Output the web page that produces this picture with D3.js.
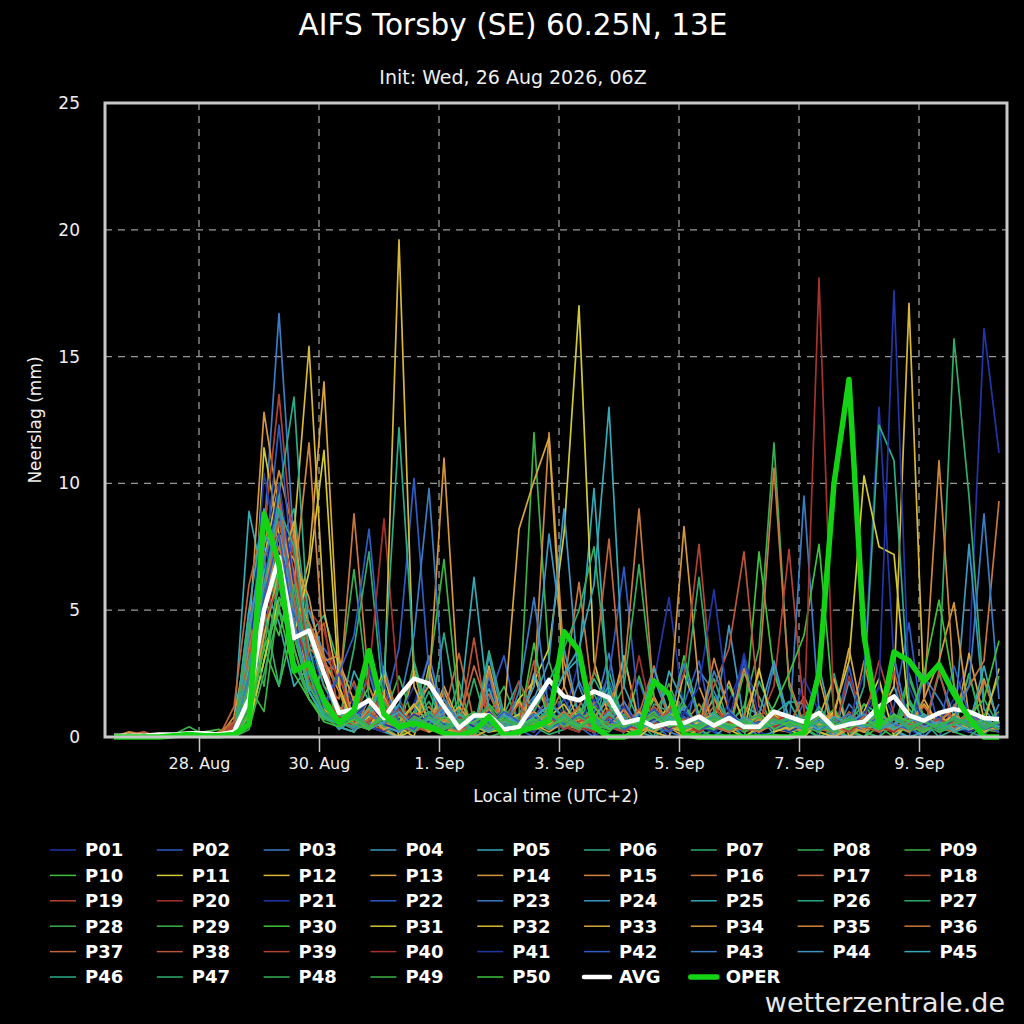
<!DOCTYPE html>
<html>
<head>
<meta charset="utf-8">
<script src="https://cdn.jsdelivr.net/npm/d3@7"></script>
<style>
  body { margin: 0; background: #000; }
  text { font-family: "DejaVu Sans", sans-serif; }
</style>
</head>
<body>
<div id="chart"></div>
<script>
// ---- data (local time, UTC+2), 6-hourly precipitation in mm ----
var titleText = "AIFS Torsby (SE) 60.25N, 13E";
var subtitleText = "Init: Wed, 26 Aug 2026, 06Z";
var firstStep = Date.UTC(2026, 7, 26, 14);   // 26 Aug 14:00 local
var stepHours = 6;
var xDomain = [Date.UTC(2026, 7, 26, 10, 24), Date.UTC(2026, 8, 10, 11, 12)];
var xTickDates = [Date.UTC(2026,7,28), Date.UTC(2026,7,30), Date.UTC(2026,8,1), Date.UTC(2026,8,3),
                  Date.UTC(2026,8,5), Date.UTC(2026,8,7), Date.UTC(2026,8,9)];
var yTicks = [0, 5, 10, 15, 20, 25];

var memberColors = ["#2236a8","#2c5cc4","#3a7dc4","#3d97c2","#33aab6","#2aab8a","#2ead68","#36ae56","#3ab244","#3ec23e",
                    "#d2ca34","#d8b836","#d8a63a","#d6963c","#d0863c","#c9763c","#c2653a","#bb5438","#b44234","#a6322e"];

var memberNames = ["P01","P02","P03","P04","P05","P06","P07","P08","P09","P10",
                   "P11","P12","P13","P14","P15","P16","P17","P18","P19","P20",
                   "P21","P22","P23","P24","P25","P26","P27","P28","P29","P30",
                   "P31","P32","P33","P34","P35","P36","P37","P38","P39","P40",
                   "P41","P42","P43","P44","P45","P46","P47","P48","P49","P50"];

var memberValues = [
  [0,0,0,0,0,0,0,0,0.1, 1.5,5.5,8.0,4.0,3.5,2.0, 1.2,0.2,2.8,0.4,0,1.3,3.2,0.5,0,0,2.1,0,0,1.0,2.0, 0.8,3.0,0,0.5,1.4,0.3,2.2,5.5,1.0,0.2,0,1.4,2.9,0.2,0, 0,2.3,1.0,0.2,0,0.5,2.0,0.8,0.3,0,0.6,1.5,3.0,16.1,11.2], // P01
  [0,0,0,0,0,0,0,0,0, 0.8,4.5,9.0,6.0,3.0,3.5, 2.6,2.0,0.5,1.0,3.5,10.2,2.5,0.8,0.2,0,1.5,3.2,0.3,0,0.6, 1.5,0.4,0,2.2,0.8,2.2,0.5,0,1.3,3.0,0.2,0,3.1,0.1,0, 0,1.4,0,0,2.8,0.2,0,1.2,4.5,0,0,1.3,1.0,0.4,0.2], // P02
  [0,0,0,0,0,0,0,0,0.2, 2.0,8.0,16.7,7.5,5.0,3.2, 2.4,0.8,2.5,0.5,0.2,1.0,3.2,0.9,0,0,2.4,0.2,0.9,1.6,0.3, 0.5,2.2,0.9,3.3,0,0.4,1.0,0.2,0,2.6,1.8,0.5,0,0.3,2.8, 0.2,9.5,1.0,0,1.3,0.6,1.2,0.2,0,2.4,1.5,0.5,0.2,0,1.3], // P03
  [0,0,0,0,0,0,0,0,0, 3.5,7.0,5.0,3.8,4.5,2.6, 1.2,0.3,0.5,2.8,0.6,0.2,0.9,1.5,0.4,0,3.2,0.6,0.3,2.5,1.0, 0.6,0.3,1.2,2.0,0.5,0,2.3,0.8,1.1,0.2,0.5,4.4,0.6,0,0.2, 1.4,1.3,0.5,0,2.2,0.5,0.9,2.0,0.4,0,0.6,0.3,7.6,1.1,0.4], // P04
  [0,0.1,0,0,0,0,0,0,0.5, 8.9,6.0,4.5,2.0,2.8,1.0, 0.3,2.6,1.4,0.2,0,0.8,2.1,0.4,0.2,0.7,1.9,0.3,0,2.5,1.2, 2.5,3.1,9.8,1.5,0.4,0.2,0,2.6,1.3,0.3,0,0.5,1.2,0.9,0.1, 0,0.3,2.8,0.2,0,0.4,1.1,0.3,0,0.2,2.5,0.8,0.3,0.6,0.4], // P05
  [0,0,0,0,0,0,0,0,0, 1.2,5.0,7.5,9.0,4.0,4.8, 2.8,0.3,1.0,2.4,0.5,0.3,0.4,4.1,0.6,0,0.3,0.9,2.2,1.0,0.4, 0.7,1.5,0.4,2.6,0.5,0,1.3,1.0,0.2,0.4,1.6,0.6,0,2.2,0.9, 1.4,0.3,0,2.5,0.2,0,0.8,0.4,1.3,0.6,0,0.3,2.5,0.2,0.8], // P06
  [0,0,0,0,0,0,0,0,0, 0.5,3.0,6.0,5.5,2.0,1.5, 0.6,3.5,7.3,1.2,0.3,0.5,1.8,0.4,0,2.3,0.2,0.8,1.5,0.4,0.1, 0.3,0.9,1.7,0.5,3.2,0.6,0,0.4,0.2,0.9,2.3,0.5,1.2,0.4,0.6, 0.2,0.3,1.2,0.4,0,1.3,0.9,0.5,1.1,0.4,2.5,15.7,9.5,1.5,0.4], // P07
  [0,0,0,0,0,0.1,0,0,0, 0.3,2.5,5.0,8.0,3.5,3.0, 2.0,6.6,1.5,0.4,0,0.6,1.4,0.3,2.2,0,0.9,2.0,0.5,0.3,0.8, 0.4,0.2,2.6,1.3,0.5,0.2,0.8,2.1,0.6,0,0.3,0.5,1.2,3.5,11.6, 2.0,0.4,0,0.3,0.8,0.2,0,0.5,1.4,0.3,0.6,0.2,0,0.5,1.0], // P08
  [0,0,0,0,0.1,0.4,0.1,0,0, 0.4,3.0,5.5,4.0,2.2,0.8, 0.5,1.1,0.3,0.8,2.4,0.6,0.2,0.4,1.5,0.3,0,0.2,0.8,12.0,3.0, 1.0,0.4,0.2,0.9,0.3,2.4,0.5,1.2,0.3,0.1,0.7,0.2,2.5,1.6,0.3, 0.4,0.9,0.2,0,0.6,1.3,0.4,0,2.3,0.8,0.2,0.5,1.0,0.3,0.2], // P09
  [0,0,0,0,0,0,0.2,0.3,0, 5.0,3.5,2.0,4.5,1.8,2.6, 0.3,0.9,2.0,0.5,0.2,0.6,1.0,0.3,0,0.4,1.3,0.6,0.2,0.5,0.9, 0.6,1.2,0.4,0.2,0.8,0.3,1.5,0.5,0.2,0.4,1.0,2.0,0.6,7.3,2.5, 0.8,0.2,0.5,1.1,0.3,0,0.4,0.9,0.3,0.6,0.2,0.4,0.8,0.3,0.5], // P10
  [0,0,0,0,0,0,0,0,0, 1.0,11.4,8.0,3.5,1.5,0.8, 0.4,0.2,1.2,2.6,0,0.3,0.8,0.2,0,0.5,0.2,0.3,1.5,2.2,3.5, 8.0,17.0,3.0,0.8,0.3,0,0.5,1.2,0.4,0.2,0.6,0.3,0,0.4,0.9, 0.3,0,0.6,0.2,0.4,1.0,2.3,0,0.5,0.2,0.8,0.3,0.5,0.2,0.4], // P11
  [0,0,0,0,0,0,0,0,0, 0.6,4.0,6.5,8.0,15.4,5.0, 2.0,0.5,0.3,1.6,0.4,0,2.8,0.3,0.2,0.6,1.1,0.2,0,2.4,0.8, 1.3,0.4,0.2,0.6,0.3,1.0,0.2,0,2.5,0.9,0.3,0.6,0.2,0.4,0.8, 0.3,0.5,0.2,0,0.4,0.6,0.8,2.0,17.1,1.5,0.4,0.2,0.6,0.3,0.5], // P12
  [0,0,0,0,0,0,0,0,0.3, 1.5,5.0,6.5,4.5,7.0,14.0, 3.0,1.4,0.8,0.3,0,1.0,0.5,2.0,0.6,0.2,2.8,0.3,1.4,0.5,0.2, 0.6,1.1,0.3,0.8,3.2,0.5,1.6,0.4,0,0.3,0.7,2.2,0.5,1.0,0.3, 0.6,0.2,0.8,2.3,0,0.5,0.9,0.2,0.4,1.3,0.5,0.2,3.3,0.7,0.4], // P13
  [0,0.2,0.1,0,0,0,0,0,0.8, 4.0,12.8,9.0,6.0,4.5,3.0, 1.8,0.3,1.5,0.5,0.2,2.6,0.3,1.8,0.4,0,0.3,0.9,0.4,0.2,1.0, 0.5,0.3,0.8,1.5,0.4,0.2,0.6,1.0,8.3,2.0,0.5,0.2,0.4,0.8,0.3, 0.2,0.6,2.4,0,0.3,0.8,0.2,0.5,0.3,0.9,0.4,0.2,0.6,2.3,0.5], // P14
  [0,0,0,0,0,0,0,0,0.2, 2.5,7.5,10.5,8.0,3.0,1.3, 0.5,1.6,0.4,0.2,0.9,0.3,2.6,0.2,0,0.5,1.0,0.3,0.6,2.0,12.0, 3.0,0.8,0.3,0.5,1.2,0.2,0.4,0.8,0.3,0.6,1.5,0.4,2.7,0.5,1.0, 0.4,0.2,0.6,1.0,0.3,3.0,0.2,0.8,0.4,0.3,0.6,1.1,0.2,0.5,0.3], // P15
  [0,0,0,0,0,0,0,0.2,0.6, 3.0,5.5,8.5,6.0,4.0,2.0, 1.5,8.8,2.0,0.5,0.3,0.8,0.4,1.2,0.3,0,2.6,0.2,0.5,1.4,0.8, 2.0,6.1,1.2,0.4,0.2,0.6,1.0,0.3,0.5,1.3,0.4,0.2,0.8,2.5,10.6, 2.2,0.5,0.3,0.8,0.2,0.4,1.0,0.3,0.6,0.2,0.5,0.9,0.3,2.2,0.6], // P16
  [0,0,0,0,0,0,0,0,1.2, 6.0,8.5,7.0,4.5,4.0,2.8, 2.6,0.3,1.0,2.5,0.8,0.2,0.5,0.9,3.3,0.6,1.7,0.4,0.2,0.8,1.5, 0.7,0.3,1.4,0.5,0.2,0.9,2.8,0.6,0.3,0.5,1.2,0.4,0.6,0.3,1.0, 0.5,1.6,0.3,0.2,0.7,0.4,0.9,0.3,0.5,1.2,0.4,0.2,0.6,0.8,0.3], // P17
  [0,0,0,0,0,0,0,0,0.4, 2.0,6.0,9.5,5.0,3.5,4.5, 0.8,2.2,0.5,0.3,1.1,0.4,0.2,0.6,0.3,3.9,0.2,0.5,1.3,0.4,0.6, 1.0,0.4,0.2,0.8,0.5,0.3,1.2,0.6,0.2,0.4,2.0,3.5,7.3,1.2,0.5, 0.3,0.8,0.4,0.2,1.0,0.5,0.3,2.6,0.2,0.9,0.4,0.3,0.7,0.2,0.5], // P18
  [0,0,0,0,0,0,0,0,0.5, 3.5,8.0,13.5,7.0,3.0,1.2, 2.6,0.3,0.9,1.8,0.4,0.2,0.7,0.3,0,0.5,0.9,0.3,2.2,0.6,0.4, 0.8,0.3,0.5,1.1,0.2,0.6,0.3,0.9,0.4,0.2,0.5,1.0,0.3,0.6,2.0, 7.4,1.0,0.3,0.5,0.2,0.8,0.4,0.3,0.6,0.2,0.5,0.9,0.3,0.4,0.2], // P19
  [0,0,0,0,0,0,0,0,0, 1.0,4.0,7.5,6.5,5.0,4.2, 2.0,0.5,2.5,8.6,1.5,0.4,0.8,0.3,0.5,0.2,0.9,0.4,0.3,0.6,1.0, 0.4,0.2,0.8,0.5,0.3,3.2,0.4,0.2,0.6,0.3,0.8,0.5,0.2,0.4,0.6, 0.9,0.3,0.5,0.2,2.4,0.7,0.3,0.5,0.2,0.6,0.3,0.8,0.4,0.2,0.5], // P20
  [0,0,0,0,0,0,0,0,0, 2.5,10.4,7.0,5.0,2.0,1.0, 2.5,1.2,0.4,0.2,0.8,2.0,0.6,0.3,0.9,0.2,0.5,1.1,0.4,0.2,0.7, 0.3,0.6,1.5,0.4,0.2,0.8,0.3,0.5,1.0,0.4,0.2,0.6,3.3,0.8,0.4, 0.2,0.5,1.0,0.3,0.6,2.5,13.0,3.0,0.6,0.3,0.8,0.4,0.2,0.5,0.9], // P21
  [0,0,0,0,0,0,0,0,0, 1.8,6.5,12.3,6.0,2.5,1.4, 0.7,0.4,1.6,0.5,0.3,0.9,2.4,0.6,0.2,0.5,0.3,1.0,0.4,0.8,1.5, 0.6,0.3,1.2,2.4,6.7,1.0,0.4,0.2,0.6,0.9,0.3,0.5,0.2,0.7,0.4, 0.3,0.6,0.2,0.8,0.4,0.3,0.9,0.5,0.2,2.6,0.4,0.3,1.0,0.5,0.2], // P22
  [0,0,0,0,0,0,0,0,0, 4.5,7.5,6.0,3.0,1.8,0.9, 0.4,0.9,0.3,1.4,0.5,0.2,0.8,0.4,1.2,0.3,0.6,0.2,1.8,5.5,1.0, 0.5,0.9,0.3,0.6,1.4,0.4,0.2,0.8,0.5,0.3,2.6,1.1,0.4,0.2,0.7, 0.5,0.3,0.8,0.2,0.5,1.0,0.4,3.2,0.3,0.8,0.2,0.5,0.7,0.3,0.4], // P23
  [0,0,0,0,0,0,0,0,0, 2.2,5.5,9.0,4.5,5.0,3.2, 0.3,0.7,1.5,0.4,0.2,0.6,0.3,1.0,0.5,0.2,0.7,0.3,0.9,2.0,8.0, 3.5,0.8,0.4,1.0,0.3,0.6,0.2,0.5,1.2,0.4,0.7,0.3,0.5,0.9,3.0, 0.6,0.3,0.5,0.2,0.7,0.4,1.1,0.3,0.6,0.2,0.5,0.8,0.3,0.6,0.4], // P24
  [0,0,0,0,0,0,0,0,0, 3.0,6.5,8.0,5.5,2.6,1.0, 0.4,0.2,0.9,0.5,1.3,0.3,0.6,0.2,0.8,6.3,1.0,0.4,0.2,0.7,1.3, 0.8,0.4,0.6,1.8,0.3,0.5,2.7,0.9,0.4,0.6,0.3,1.0,0.5,0.2,0.6, 0.4,0.8,0.3,0.5,0.2,0.6,0.4,0.9,0.3,0.5,0.7,0.2,0.4,2.8,0.3], // P25
  [0,0,0,0,0,0,0,0,0, 1.5,6.0,9.5,13.4,4.0,2.0, 0.9,0.4,1.2,0.5,0.3,0.8,0.4,1.5,0.6,0.2,3.4,0.9,0.3,0.6,1.1, 0.5,0.8,2.3,1.2,0.4,0.6,0.2,0.7,0.3,0.5,1.0,0.4,0.6,0.3,0.8, 0.3,0.6,0.4,0.8,0.3,2.0,12.3,10.9,1.5,0.4,0.6,0.3,0.5,0.2,0.4], // P26
  [0,0,0,0,0,0,0,0,0, 0.8,4.5,6.0,4.0,1.8,0.7, 0.5,0.9,0.3,1.1,0.6,0.2,0.8,0.4,0.3,0.7,1.2,0.4,0.6,1.0,2.2, 3.5,5.0,7.5,2.0,0.6,0.3,0.8,0.4,0.2,0.6,0.9,0.3,0.5,0.2,0.7, 0.5,0.3,0.8,0.4,0.2,0.6,0.9,0.3,2.5,0.7,0.2,0.4,0.8,0.3,0.5], // P27
  [0,0,0,0,0,0,0,0,0, 0.6,3.5,7.0,5.0,3.0,1.5, 0.8,0.3,0.6,1.4,0.4,2.9,0.3,0.6,0.2,0.5,0.8,0.3,0.7,0.4,0.9, 0.6,1.0,0.4,0.8,2.0,6.8,1.5,0.5,0.3,0.7,0.4,0.2,0.6,0.9,0.3, 0.6,0.4,0.2,0.7,0.3,0.5,0.8,0.4,0.2,0.6,0.9,0.3,2.5,0.2,0.6], // P28
  [0,0,0,0,0,0.2,0.1,0,0, 1.2,5.0,8.0,3.5,1.5,0.8, 0.4,0.8,1.6,0.6,0.3,0.9,2.5,7.0,1.0,0.4,0.2,0.6,0.9,0.3,0.5, 1.0,0.4,0.7,0.3,0.9,0.5,0.2,0.6,1.3,0.4,0.3,0.7,0.2,0.5,0.8, 0.3,0.7,0.4,0.2,0.6,0.9,0.4,0.3,0.7,0.5,0.2,0.6,0.3,0.8,2.4], // P29
  [0,0,0,0,0,0,0,0,0, 2.0,5.5,4.0,6.5,2.5,0.9, 0.6,0.3,1.0,0.4,0.8,0.3,0.6,0.2,0.9,0.5,0.3,1.1,0.4,3.7,0.3, 0.8,0.4,1.2,0.5,0.3,0.6,1.0,0.4,3.2,0.8,0.5,0.3,0.7,0.4,1.2, 2.5,4.0,7.6,1.0,0.4,0.6,0.3,0.8,0.4,0.2,0.6,0.3,0.5,0.7,0.4], // P30
  [0,0,0,0,0,0,0,0,0, 0.5,3.0,5.5,4.0,6.5,11.3, 2.0,0.4,0.8,0.3,0.6,1.3,0.5,0.2,0.7,0.4,0.9,0.3,0.5,0.8,0.3, 0.6,0.3,0.9,0.4,0.7,0.2,0.5,1.0,0.3,0.6,0.4,0.8,0.3,2.7,0.2, 0.4,0.7,0.3,1.0,3.0,10.3,7.5,7.2,0.8,0.4,0.6,0.3,0.5,0.2,0.6], // P31
  [0,0,0,0,0,0,0,0,0, 1.5,7.0,10.0,5.5,2.0,1.1, 0.6,0.9,0.3,1.5,19.6,2.0,0.6,0.3,0.8,0.4,0.2,0.6,0.9,0.3,0.5, 0.8,0.3,0.6,0.4,1.1,0.3,0.7,0.4,0.2,0.6,0.9,0.3,0.5,0.8,0.4, 0.6,0.3,0.5,0.8,0.4,0.2,0.7,0.5,0.3,0.6,0.4,0.9,0.3,0.5,2.7], // P32
  [0,0,0,0,0,0,0,0,0, 0.9,4.0,6.5,8.5,3.0,1.4, 0.5,1.0,0.3,0.7,0.4,0.9,0.2,0.6,1.2,0.4,0.3,0.8,8.2,10.1,11.8, 2.0,0.6,0.3,0.8,0.4,1.0,0.3,0.6,0.2,0.5,0.9,0.4,0.3,0.7,0.5, 0.3,0.6,0.4,0.8,3.5,0.5,0.3,0.7,0.4,0.6,0.9,0.3,0.5,0.2,0.6], // P33
  [0,0,0,0,0,0,0,0,0, 2.8,6.0,8.0,7.0,5.5,2.5, 1.2,0.5,0.9,0.3,0.6,1.2,2.0,11.0,1.5,0.4,0.7,0.3,0.6,1.0,0.4, 0.5,0.8,0.3,0.6,1.1,0.4,0.2,0.7,0.5,0.3,0.8,0.4,0.6,0.2,0.5, 0.7,0.3,0.5,0.9,0.4,0.2,0.6,0.8,0.3,1.5,3.0,5.3,0.8,0.4,0.3], // P34
  [0,0,0,0,0,0,0,0,0.3, 2.0,5.0,8.0,6.0,11.6,3.0, 3.2,0.4,1.1,0.6,0.3,0.9,0.4,0.7,0.3,0.5,1.0,0.4,0.2,0.6,0.9, 0.4,0.7,0.3,0.9,0.5,0.2,0.6,0.4,0.8,0.3,3.1,1.0,0.4,0.7,0.3, 0.5,0.3,0.8,0.4,0.6,0.3,0.9,0.5,0.2,1.5,10.9,2.0,0.5,0.3,0.6], // P35
  [0,0,0,0,0,0,0,0,0, 3.5,6.0,7.5,5.0,4.5,3.2, 0.6,1.0,0.4,0.8,0.3,0.7,1.2,0.4,0.2,0.6,0.9,0.3,0.5,0.8,0.4, 1.0,0.5,0.3,1.4,2.5,9.0,1.5,0.4,0.7,0.3,0.6,0.9,0.4,0.2,0.5, 0.8,0.3,0.6,0.4,0.2,0.7,0.5,0.3,0.8,0.4,0.6,1.2,2.0,3.0,9.3], // P36
  [0,0.1,0.2,0,0,0,0,0,0.2, 2.5,5.0,9.0,6.5,3.5,3.0, 0.9,0.4,0.7,1.5,0.5,0.3,0.8,0.4,0.6,2.8,1.0,0.5,0.2,0.7,0.4, 0.6,1.2,2.5,7.8,1.0,0.4,0.7,0.3,0.6,0.9,0.4,0.2,0.8,0.5,0.3, 0.6,0.4,0.9,0.3,0.5,0.8,0.4,0.2,0.6,0.3,0.7,0.5,0.9,0.4,0.6], // P37
  [0,0,0,0,0,0,0,0,0.6, 3.0,7.0,8.5,5.5,2.2,1.0, 0.7,0.3,1.0,0.5,0.9,0.4,0.6,1.3,0.3,0.5,0.8,0.2,0.6,3.0,0.9, 0.5,0.8,0.3,0.6,0.4,1.1,0.5,0.3,0.7,0.4,0.9,0.6,0.3,0.5,0.8, 0.4,0.7,0.3,0.6,0.9,0.4,0.2,0.7,0.5,0.3,2.6,0.4,0.6,0.3,0.5], // P38
  [0,0,0,0,0,0,0,0,0, 1.5,4.5,6.0,7.5,3.0,1.6, 0.8,0.4,0.6,1.2,0.3,0.8,0.5,0.3,0.7,0.4,0.9,0.3,0.6,0.4,0.8, 0.3,0.6,0.9,0.4,0.2,0.7,0.5,1.0,2.5,7.6,1.2,0.5,0.3,0.8,0.4, 0.6,0.3,0.8,0.5,0.2,0.6,3.0,0.9,0.3,0.5,0.7,0.4,0.6,0.3,0.5], // P39
  [0,0,0,0,0,0,0,0,0, 2.0,5.5,7.0,4.5,2.8,1.0, 0.5,0.9,0.3,0.7,1.1,0.4,0.6,0.2,0.8,0.5,0.3,0.7,0.4,0.9,0.3, 0.7,0.4,0.2,0.8,0.5,0.3,0.9,0.4,0.6,0.2,0.7,0.5,0.3,0.8,0.4, 0.6,0.5,18.1,0.8,0.3,0.6,0.4,0.2,0.7,0.5,0.3,0.8,0.4,0.6,0.3], // P40
  [0,0,0,0,0,0,0,0,0, 1.0,6.0,10.0,6.0,2.5,1.0, 0.4,0.8,1.4,0.5,0.3,0.9,0.6,0.2,0.7,0.4,1.0,0.3,0.5,0.8,0.4, 0.6,0.3,0.8,0.5,1.2,0.4,0.7,0.3,0.9,2.0,5.8,1.0,0.4,0.6,0.3, 0.5,0.8,0.3,0.6,0.4,0.9,2.0,17.6,2.0,0.5,0.3,0.7,0.4,0.6,0.3], // P41
  [0,0,0,0,0,0,0,0,0, 1.5,5.5,8.0,4.5,2.0,1.3, 2.5,4.0,8.2,2.0,0.6,0.3,0.9,0.5,0.3,0.7,0.4,1.0,0.6,0.3,0.8, 0.5,0.9,0.4,0.7,0.3,0.6,1.1,0.4,0.8,0.3,0.5,0.9,0.4,0.6,0.3, 0.7,0.4,0.9,0.3,0.6,0.4,0.8,0.5,0.3,0.7,0.4,2.8,0.9,0.3,0.5], // P42
  [0,0,0,0,0,0,0,0,0, 2.5,7.0,9.0,5.0,3.0,1.5, 0.7,0.3,0.9,0.5,1.2,4.0,9.8,1.5,0.6,0.3,0.8,0.4,0.6,0.9,0.3, 0.6,0.4,0.8,0.3,0.5,0.9,0.4,0.7,2.9,0.6,0.8,0.4,0.5,0.3,0.7, 0.4,0.7,0.3,0.6,0.9,0.4,0.5,0.8,0.3,0.6,0.4,0.7,2.0,8.8,1.5], // P43
  [0,0,0,0,0,0,0,0,0, 4.0,8.0,7.0,4.5,2.0,1.0, 0.6,1.0,0.4,0.8,0.3,0.7,0.5,1.2,0.4,0.6,0.3,0.9,0.5,1.5,3.0, 9.0,2.0,0.6,0.4,0.8,0.3,0.6,0.9,0.4,0.5,0.7,0.3,0.8,0.4,0.6, 0.5,0.3,0.7,0.4,0.6,0.9,0.3,0.5,0.8,0.4,0.6,0.3,0.7,0.5,0.4], // P44
  [0,0,0,0,0,0,0,0,0, 5.0,9.0,7.0,4.0,1.8,0.8, 0.5,0.8,0.3,0.6,1.0,0.4,0.7,0.3,0.9,0.5,0.2,0.6,0.4,0.8,1.2, 2.5,3.5,6.0,13.0,2.0,0.6,0.3,0.8,0.5,0.4,0.9,0.3,0.6,0.4,0.7, 0.4,0.6,0.3,0.8,0.5,0.4,0.7,0.3,0.6,0.9,0.4,0.5,0.3,0.7,0.4], // P45
  [0,0,0,0,0,0,0,0,0, 2.0,6.0,9.0,7.5,3.5,1.2, 0.6,0.4,0.9,2.5,12.2,3.0,0.8,0.4,0.6,0.3,0.9,0.5,0.3,0.7,0.4, 0.8,0.5,0.3,0.9,0.4,0.6,0.3,0.7,0.5,0.4,0.8,0.3,0.6,0.4,0.5, 0.7,0.3,0.6,0.4,0.8,0.5,0.3,0.7,0.4,0.6,0.3,0.8,0.5,0.4,0.6], // P46
  [0,0,0,0,0,0,0,0,0, 3.0,5.0,2.0,6.0,2.5,0.9, 0.5,0.8,0.4,0.9,0.3,0.6,1.0,0.4,0.7,0.3,0.5,0.8,0.4,0.6,0.3, 0.9,0.4,0.7,0.3,0.6,0.4,0.8,0.5,1.5,6.3,1.0,0.4,0.7,0.3,0.5, 0.8,0.4,0.6,0.3,0.7,0.5,0.4,0.8,0.3,0.6,0.4,0.7,0.5,0.3,0.6], // P47
  [0,0,0,0,0,0,0,0,0, 4.5,2.0,6.5,3.0,1.5,0.7, 0.9,0.5,0.3,1.0,0.6,0.4,0.8,0.3,0.5,0.9,0.4,0.7,0.3,0.6,1.0, 0.4,0.8,0.5,0.3,0.7,0.4,0.9,0.6,0.3,0.5,0.8,0.4,0.6,0.3,0.7, 0.5,0.8,0.4,0.6,0.3,0.7,0.5,0.9,0.4,0.6,0.3,0.5,0.8,0.4,0.6], // P48
  [0,0,0,0,0,0,0,0,0, 2.0,1.0,5.5,4.0,2.0,1.0, 0.6,0.9,0.4,0.7,0.3,0.8,0.5,0.3,0.6,1.0,0.4,0.7,0.5,0.3,0.9, 0.6,0.3,0.8,0.5,0.4,0.7,0.3,0.9,0.5,0.4,0.6,0.8,0.3,0.5,0.7, 0.4,0.6,0.9,0.3,0.7,0.5,0.4,0.8,0.6,0.3,0.5,0.7,0.4,0.6,0.3], // P49
  [0,0,0,0,0,0,0,0,0, 1.0,3.5,5.0,2.5,1.5,0.6, 0.4,0.7,0.3,0.9,0.5,0.6,0.3,0.8,0.4,0.6,0.9,0.3,0.5,0.7,0.4, 0.7,0.4,0.9,0.3,0.6,0.5,0.8,0.4,0.6,0.3,0.7,0.5,0.4,0.8,0.3, 0.6,0.4,0.8,0.5,0.3,0.7,0.4,0.9,0.6,2.5,5.4,2.0,0.8,1.5,3.8]  // P50
];

var avgValues = [0.05,0.05,0.05,0.1,0.1,0.15,0.15,0.1,0.2, 1.5,5.0,7.1,3.9,4.2,2.5,
                 0.95,1.1,1.45,0.75,1.6,2.3,2.1,1.2,0.35,0.85,0.85,0.3,0.4,1.3,2.25,
                 1.6,1.45,1.8,1.55,0.55,0.7,0.4,0.55,0.55,0.8,0.45,0.75,0.4,0.4,1.0,
                 0.8,0.6,0.95,0.35,0.5,0.6,1.2,1.6,0.85,0.65,0.95,1.1,1.0,0.75,0.7];

var operValues = [0,0,0,0,0.05,0.1,0.05,0.05,0.1, 0.5,8.8,6.8,2.6,2.9,1.45,
                  0.55,1.05,3.4,0.9,0.4,0.55,0.4,0.15,0.05,0.25,0.8,0.05,0.2,0.4,0.65,
                  4.15,3.4,0.4,0,0,0.2,2.2,1.7,0.1,0,0,0,0,0,0,
                  0,0.15,2.5,10.0,14.1,4.0,0.4,3.35,3.0,2.2,2.85,1.7,0.75,0,0];

// ---- drawing ----
var W = 1024, H = 1024;
var plot = {left: 105, right: 1007, top: 103, bottom: 737};

var svg = d3.select("#chart").append("svg")
  .attr("width", W).attr("height", H)
  .style("background", "#000");

svg.append("rect").attr("width", W).attr("height", H).attr("fill", "#000");

var x = d3.scaleUtc().domain(xDomain).range([plot.left, plot.right]);
var y = d3.scaleLinear().domain([0, 25]).range([plot.bottom, plot.top]);

function stepTime(i) { return new Date(firstStep + i * stepHours * 3600000); }

// grid
svg.append("g").selectAll("line").data(yTicks.filter(function(d){ return d > 0 && d < 25; }))
  .enter().append("line")
  .attr("x1", plot.left).attr("x2", plot.right)
  .attr("y1", function(d){ return y(d); }).attr("y2", function(d){ return y(d); })
  .style("stroke", "#9a9a9a").style("stroke-width", "1.3px").style("stroke-dasharray", "7,6");

svg.append("g").selectAll("line").data(xTickDates)
  .enter().append("line")
  .attr("x1", function(d){ return x(d); }).attr("x2", function(d){ return x(d); })
  .attr("y1", plot.top).attr("y2", plot.bottom)
  .style("stroke", "#9a9a9a").style("stroke-width", "1.3px").style("stroke-dasharray", "7,6");

// series
var line = d3.line()
  .x(function(d, i){ return x(stepTime(i)); })
  .y(function(d){ return y(d); });

memberValues.forEach(function(vals, m) {
  svg.append("path")
    .attr("d", line(vals))
    .style("fill", "none")
    .style("stroke", memberColors[m % 20])
    .style("stroke-width", "1.7px")
    .style("stroke-linejoin", "round");
});

svg.append("path").attr("d", line(avgValues))
  .style("fill", "none").style("stroke", "#ffffff").style("stroke-width", "4.5px").style("stroke-linejoin", "round");

svg.append("path").attr("d", line(operValues))
  .style("fill", "none").style("stroke", "#14d214").style("stroke-width", "5.5px").style("stroke-linejoin", "round");

// frame
svg.append("rect")
  .attr("x", plot.left).attr("y", plot.top)
  .attr("width", plot.right - plot.left).attr("height", plot.bottom - plot.top)
  .style("fill", "none").style("stroke", "#c8c8c8").style("stroke-width", "3px");

// axes
var xAxis = svg.append("g")
  .attr("transform", "translate(0," + (plot.bottom + 1) + ")")
  .call(d3.axisBottom(x).tickValues(xTickDates).tickFormat(d3.utcFormat("%-d. %b")).tickSize(14).tickPadding(6).tickSizeOuter(0));
xAxis.select(".domain").remove();
xAxis.selectAll("line").style("stroke", "#c8c8c8").style("stroke-width", "1.5px");
xAxis.selectAll("text").style("fill", "#f0f0f0").style("font-size", "16px").style("font-family", "DejaVu Sans");

var yAxis = svg.append("g")
  .attr("transform", "translate(" + plot.left + ",0)")
  .call(d3.axisLeft(y).tickValues(yTicks).tickSize(0).tickPadding(25));
yAxis.select(".domain").remove();
yAxis.selectAll("text").style("fill", "#f0f0f0").style("font-size", "17px").style("font-family", "DejaVu Sans");

// titles
svg.append("text").text(titleText)
  .attr("x", 513).attr("y", 35).attr("text-anchor", "middle")
  .style("fill", "#fff").style("font-size", "29.5px");

svg.append("text").text(subtitleText)
  .attr("x", 513).attr("y", 84).attr("text-anchor", "middle")
  .style("fill", "#f0f0f0").style("font-size", "19px");

svg.append("text").text("Local time (UTC+2)")
  .attr("x", 556).attr("y", 802).attr("text-anchor", "middle")
  .style("fill", "#f0f0f0").style("font-size", "17px");

svg.append("text").text("Neerslag (mm)")
  .attr("transform", "translate(41,420) rotate(-90)").attr("text-anchor", "middle")
  .style("fill", "#f0f0f0").style("font-size", "17px");

// legend
var legendItems = memberNames.map(function(n, i){ return {name: n, color: memberColors[i % 20], w: 1.5}; })
  .concat([{name: "AVG", color: "#ffffff", w: 4.5}, {name: "OPER", color: "#14d214", w: 5.5}]);

var leg = svg.append("g").selectAll("g").data(legendItems).enter().append("g")
  .attr("transform", function(d, i){ return "translate(" + (50 + (i % 9) * 106.8) + "," + (850 + Math.floor(i / 9) * 25.4) + ")"; });

leg.append("line").attr("x1", 0).attr("x2", 26).attr("y1", 0).attr("y2", 0)
  .style("stroke", function(d){ return d.color; })
  .style("stroke-width", function(d){ return d.w + "px"; })
  .style("stroke-linecap", function(d){ return d.w > 2 ? "round" : "butt"; });

leg.append("text").text(function(d){ return d.name; })
  .attr("x", 35).attr("y", 0).attr("dy", "0.36em")
  .style("fill", "#fff").style("font-size", "18px").style("font-weight", "bold");

svg.append("text").text("wetterzentrale.de")
  .attr("x", 1005).attr("y", 1012).attr("text-anchor", "end")
  .style("fill", "#e8e8e8").style("font-size", "27px");
</script>
</body>
</html>
